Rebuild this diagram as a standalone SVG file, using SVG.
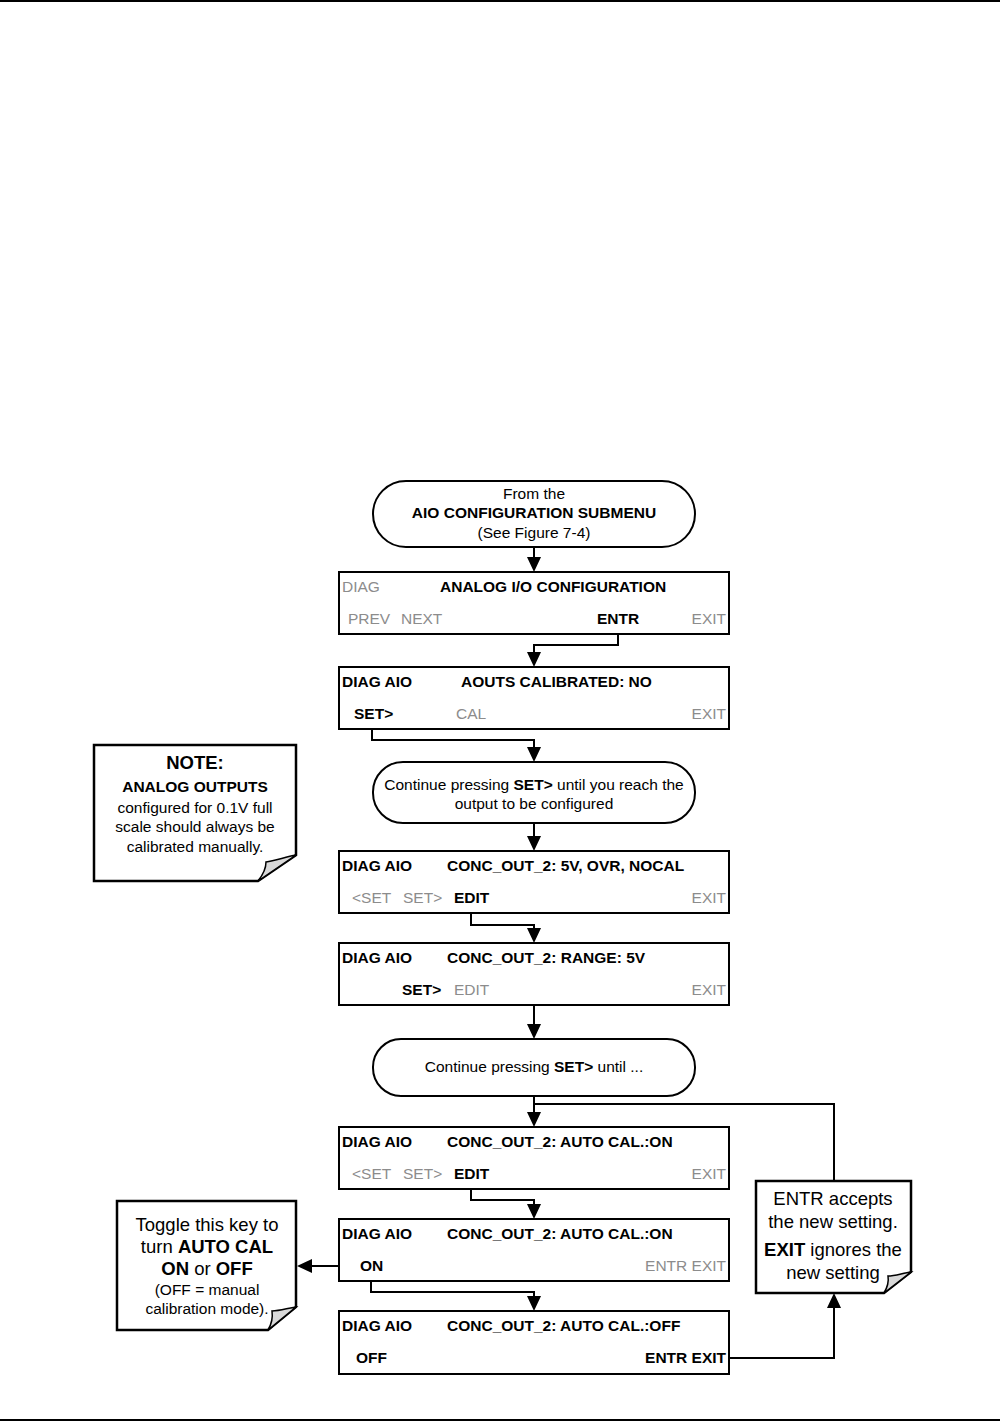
<svg xmlns="http://www.w3.org/2000/svg" width="1006" height="1423" viewBox="0 0 1006 1423">
<defs>
<style>
text{font-family:"Liberation Sans",Arial,sans-serif;font-size:15.5px;fill:#000}
.b{font-weight:bold}
.g{fill:#8c8c8c}
.box{fill:#fff;stroke:#000;stroke-width:2}
.note{fill:#fff;stroke:#000;stroke-width:2.5}
.curl{fill:#d9d9d9;stroke:#000;stroke-width:1.5}
.c{fill:none;stroke:#000;stroke-width:2}
.n{font-size:18.5px}
.m{text-anchor:middle}
.e{text-anchor:end}
</style>
</defs>
<rect width="1006" height="1423" fill="#fff"/>
<line x1="0" y1="1" x2="1000" y2="1" stroke="#000" stroke-width="2"/>
<line x1="0" y1="1420" x2="1000" y2="1420" stroke="#000" stroke-width="2"/>

<g id="connectors">
<path class="c" d="M534,547 V558"/><path d="M527,557 L541,557 L534,572 z"/>
<path class="c" d="M618,634 V645 H534 V652"/><path d="M527,652 L541,652 L534,667 z"/>
<path class="c" d="M372,729 V740 H534 V747"/><path d="M527,747 L541,747 L534,762 z"/>
<path class="c" d="M534,823 V836"/><path d="M527,836 L541,836 L534,851 z"/>
<path class="c" d="M471,913 V925 H534 V928"/><path d="M527,928 L541,928 L534,943 z"/>
<path class="c" d="M423,997 V1005"/>
<path class="c" d="M534,1005 V1024"/><path d="M527,1024 L541,1024 L534,1039 z"/>
<path class="c" d="M534,1096 V1112"/><path d="M527,1112 L541,1112 L534,1127 z"/>
<path class="c" d="M534,1104 H834 V1181"/>
<path class="c" d="M471,1189 V1200 H534 V1204"/><path d="M527,1204 L541,1204 L534,1219 z"/>
<path class="c" d="M339,1266 H312"/><path d="M312,1259 L312,1273 L297,1266 z"/>
<path class="c" d="M371,1281 V1292 H534 V1296"/><path d="M527,1296 L541,1296 L534,1311 z"/>
<path class="c" d="M729,1358 H834 V1308"/><path d="M827,1308 L841,1308 L834,1293 z"/>
</g>

<g id="start">
<rect x="373" y="481" width="322" height="66" rx="33" class="box"/>
<text x="534" y="499" class="m">From the</text>
<text x="534" y="518" class="m b">AIO CONFIGURATION SUBMENU</text>
<text x="534" y="538" class="m">(See Figure 7-4)</text>
</g>

<g id="box1">
<rect x="339" y="572" width="390" height="62" class="box"/>
<text x="342" y="592" class="g">DIAG</text>
<text x="440" y="592" class="b">ANALOG I/O CONFIGURATION</text>
<text x="348" y="624" class="g">PREV</text>
<text x="401" y="624" class="g">NEXT</text>
<text x="597" y="624" class="b">ENTR</text>
<text x="726" y="624" class="g e">EXIT</text>
</g>

<g id="box2">
<rect x="339" y="667" width="390" height="62" class="box"/>
<text x="342" y="687" class="b">DIAG AIO</text>
<text x="461" y="687" class="b">AOUTS CALIBRATED: NO</text>
<text x="354" y="719" class="b">SET&gt;</text>
<text x="456" y="719" class="g">CAL</text>
<text x="726" y="719" class="g e">EXIT</text>
</g>

<g id="cont1">
<rect x="373" y="762" width="322" height="61" rx="30" class="box"/>
<text x="534" y="790" class="m">Continue pressing <tspan class="b">SET&gt;</tspan> until you reach the</text>
<text x="534" y="809" class="m">output to be configured</text>
</g>

<g id="note1">
<path class="note" d="M94,745 H296 V855 L258,881 H94 Z"/>
<path class="curl" d="M296,855 C285,857 275,861 266,862 C266,869 262,876 258,881 Z"/>
<text x="195" y="769" class="m b n">NOTE:</text>
<text x="195" y="792" class="m b">ANALOG OUTPUTS</text>
<text x="195" y="813" class="m">configured for 0.1V full</text>
<text x="195" y="832" class="m">scale should always be</text>
<text x="195" y="852" class="m">calibrated manually.</text>
</g>

<g id="box3">
<rect x="339" y="851" width="390" height="62" class="box"/>
<text x="342" y="871" class="b">DIAG AIO</text>
<text x="447" y="871" class="b">CONC_OUT_2: 5V, OVR, NOCAL</text>
<text x="352" y="903" class="g">&lt;SET</text>
<text x="403" y="903" class="g">SET&gt;</text>
<text x="454" y="903" class="b">EDIT</text>
<text x="726" y="903" class="g e">EXIT</text>
</g>

<g id="box4">
<rect x="339" y="943" width="390" height="62" class="box"/>
<text x="342" y="963" class="b">DIAG AIO</text>
<text x="447" y="963" class="b">CONC_OUT_2: RANGE: 5V</text>
<text x="402" y="995" class="b">SET&gt;</text>
<text x="454" y="995" class="g">EDIT</text>
<text x="726" y="995" class="g e">EXIT</text>
</g>

<g id="cont2">
<rect x="373" y="1039" width="322" height="57" rx="28" class="box"/>
<text x="534" y="1072" class="m">Continue pressing <tspan class="b">SET&gt;</tspan> until ...</text>
</g>

<g id="box5">
<rect x="339" y="1127" width="390" height="62" class="box"/>
<text x="342" y="1147" class="b">DIAG AIO</text>
<text x="447" y="1147" class="b">CONC_OUT_2: AUTO CAL.:ON</text>
<text x="352" y="1179" class="g">&lt;SET</text>
<text x="403" y="1179" class="g">SET&gt;</text>
<text x="454" y="1179" class="b">EDIT</text>
<text x="726" y="1179" class="g e">EXIT</text>
</g>

<g id="box6">
<rect x="339" y="1219" width="390" height="62" class="box"/>
<text x="342" y="1239" class="b">DIAG AIO</text>
<text x="447" y="1239" class="b">CONC_OUT_2: AUTO CAL.:ON</text>
<text x="360" y="1271" class="b">ON</text>
<text x="726" y="1271" class="g e">ENTR EXIT</text>
</g>

<g id="box7">
<rect x="339" y="1311" width="390" height="63" class="box"/>
<text x="342" y="1331" class="b">DIAG AIO</text>
<text x="447" y="1331" class="b">CONC_OUT_2: AUTO CAL.:OFF</text>
<text x="356" y="1363" class="b">OFF</text>
<text x="726" y="1363" class="b e">ENTR EXIT</text>
</g>

<g id="note2">
<path class="note" d="M117,1201 H296 V1307 L268,1330 H117 Z"/>
<path class="curl" d="M296,1307 C288,1308 280,1311 272,1311 C273,1318 271,1325 268,1330 Z"/>
<text x="207" y="1231" class="m n">Toggle this key to</text>
<text x="207" y="1253" class="m n">turn  <tspan class="b">AUTO CAL</tspan></text>
<text x="207" y="1275" class="m n"><tspan class="b">ON</tspan> or <tspan class="b">OFF</tspan></text>
<text x="207" y="1295" class="m">(OFF = manual</text>
<text x="207" y="1314" class="m">calibration mode).</text>
</g>

<g id="note3">
<path class="note" d="M756,1181 H911 V1272 L884,1293 H756 Z"/>
<path class="curl" d="M911,1272 C903,1273 895,1276 888,1276 C889,1282 887,1288 884,1293 Z"/>
<text x="833" y="1205" class="m n">ENTR accepts</text>
<text x="833" y="1228" class="m n">the new setting.</text>
<text x="833" y="1256" class="m n"><tspan class="b">EXIT</tspan> ignores the</text>
<text x="833" y="1279" class="m n">new setting</text>
</g>
</svg>
